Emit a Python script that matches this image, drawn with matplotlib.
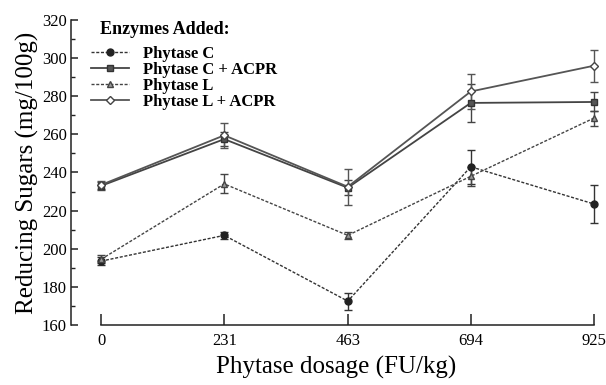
import numpy as np
import matplotlib
matplotlib.use('Agg')
import matplotlib.pyplot as plt
from matplotlib.ticker import MultipleLocator

plt.rcParams['font.family'] = ['Liberation Serif', 'DejaVu Serif']

# data
dosage = [0, 231, 463, 694, 925]
phytase_c = [193.5, 207, 172.5, 243, 223.5]
phytase_c_err = [2, 2, 4.5, 9, 10]
phytase_c_acpr = [233, 257.5, 232, 276.5, 277]
phytase_c_acpr_err = [2, 3.5, 4, 10, 5]
phytase_l = [194.5, 234, 207, 238, 268.5]
phytase_l_err = [2, 5, 2, 5, 4]
phytase_l_acpr = [233.5, 259.5, 232.5, 282.5, 296]
phytase_l_acpr_err = [2, 6.5, 9.5, 9, 8.5]

fig = plt.figure(figsize=(6.06, 3.85), dpi=100)
ax = fig.add_axes([0.117, 0.156, 0.876, 0.792])

dash = (0, (2.2, 1.2))
e1 = ax.errorbar(dosage, phytase_c, yerr=phytase_c_err, color='#333333', ls=dash, lw=1,
                 marker='o', ms=5, mfc='#222222', mec='#222222', capsize=3, elinewidth=1,
                 label='Phytase C')
e2 = ax.errorbar(dosage, phytase_c_acpr, yerr=phytase_c_acpr_err, color='#444444', ls='-', lw=1.3,
                 marker='s', ms=5, mfc='#555555', mec='#333333', capsize=3, elinewidth=1,
                 label='Phytase C + ACPR')
e3 = ax.errorbar(dosage, phytase_l, yerr=phytase_l_err, color='#444444', ls=dash, lw=1,
                 marker='^', ms=5, mfc='#999999', mec='#444444', capsize=3, elinewidth=1,
                 label='Phytase L')
e4 = ax.errorbar(dosage, phytase_l_acpr, yerr=phytase_l_acpr_err, color='#555555', ls='-', lw=1.3,
                 marker='D', ms=4.5, mfc='white', mec='#444444', capsize=3, elinewidth=1,
                 label='Phytase L + ACPR')

ax.set_xlim(-57, 940)
ax.set_ylim(160, 320)
ax.spines['top'].set_visible(False)
ax.spines['right'].set_visible(False)
ax.spines['left'].set_bounds(160, 320)
ax.spines['bottom'].set_bounds(0, 925)
for s in ['left', 'bottom']:
    ax.spines[s].set_color('#222222')
    ax.spines[s].set_linewidth(1.1)

ax.set_xticks(dosage)
ax.set_xticklabels([str(d) for d in dosage])
ax.yaxis.set_major_locator(MultipleLocator(20))
ax.yaxis.set_minor_locator(MultipleLocator(10))
ax.tick_params(axis='x', direction='in', length=8, width=1.1, color='#222222',
               labelsize=12, pad=6)
ax.tick_params(axis='y', which='major', direction='in', length=5, width=1.1,
               color='#222222', labelsize=12, pad=3)
ax.tick_params(axis='y', which='minor', direction='in', length=3, width=1, color='#222222')

ax.set_xlabel('Phytase dosage (FU/kg)', fontsize=18, labelpad=5)
ax.set_ylabel('Reducing Sugars (mg/100g)', fontsize=18, labelpad=2)

# legend title as separate text, indented from the handles
fig.text(100 / 606, 1 - 30 / 385, 'Enzymes Added:', fontsize=13, fontweight='bold',
         ha='left', va='center')
# only line + marker in the legend, no error bars
handles = [e[0] for e in (e1, e2, e3, e4)]
labels = ['Phytase C', 'Phytase C + ACPR', 'Phytase L', 'Phytase L + ACPR']
leg = ax.legend(handles, labels, loc='upper left', bbox_to_anchor=(0.019, 0.948),
                frameon=False, handlelength=2.3, handletextpad=0.8,
                labelspacing=0.0, borderaxespad=0.2,
                prop={'weight': 'bold', 'size': 12})

fig.savefig('out.png', dpi=100)
